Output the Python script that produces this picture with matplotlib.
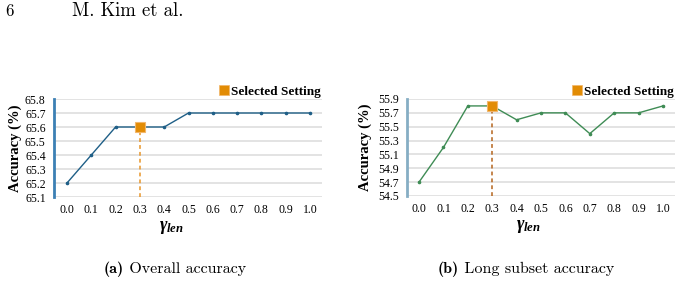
import matplotlib
matplotlib.use("Agg")
import matplotlib.pyplot as plt

gamma = [0.0, 0.1, 0.2, 0.3, 0.4, 0.5, 0.6, 0.7, 0.8, 0.9, 1.0]
xtick_labels = ["0.0", "0.1", "0.2", "0.3", "0.4", "0.5", "0.6", "0.7", "0.8", "0.9", "1.0"]
overall_acc = [65.2, 65.4, 65.6, 65.6, 65.6, 65.7, 65.7, 65.7, 65.7, 65.7, 65.7]
long_acc = [54.7, 55.2, 55.8, 55.8, 55.6, 55.7, 55.7, 55.4, 55.7, 55.7, 55.8]
selected_gamma = 0.3
overall_yticks = [65.1, 65.2, 65.3, 65.4, 65.5, 65.6, 65.7, 65.8]
long_yticks = [54.5, 54.7, 54.9, 55.1, 55.3, 55.5, 55.7, 55.9]
legend_label = "Selected Setting"
ylabel = "Accuracy (%)"
captions = [("(a)", " Overall accuracy"), ("(b)", " Long subset accuracy")]

plt.rcParams["mathtext.fontset"] = "custom"
plt.rcParams["mathtext.it"] = "Liberation Serif:bold:italic"
plt.rcParams["mathtext.rm"] = "Liberation Serif:bold"
plt.rcParams["mathtext.bf"] = "Liberation Serif:bold"

W, H = 682, 284
fig = plt.figure(figsize=(W / 100, H / 100), dpi=100)
serif = "Liberation Serif"


def px_axes(x0, x1, y0, y1):
    return fig.add_axes([x0 / W, 1 - y1 / H, (x1 - x0) / W, (y1 - y0) / H])


def draw(ax, y, yticks, line_color, spine_color, vline_color, x_lo, x_hi, lpad):
    ax.set_xlim(x_lo, x_hi)
    ax.set_ylim(yticks[0], yticks[-1])
    ax.set_yticks(yticks)
    ax.set_yticklabels(["{:.1f}".format(t) for t in yticks], fontfamily=serif, fontsize=8.5)
    ax.set_xticks(gamma)
    ax.set_xticklabels(xtick_labels, fontfamily=serif, fontsize=8.5)
    ax.tick_params(length=0, pad=6)
    ax.tick_params(axis="x", pad=5)
    for s in ["top", "right", "bottom"]:
        ax.spines[s].set_visible(False)
    ax.spines["left"].set_color(spine_color)
    ax.spines["left"].set_linewidth(2.0)
    ax.grid(axis="y", color="#e3e3e3", linewidth=1.4)
    ax.set_axisbelow(True)
    ax.plot(gamma, y, color=line_color, linewidth=1.0, marker="o", markersize=1.6, zorder=3)
    i = gamma.index(selected_gamma)
    ax.plot([selected_gamma, selected_gamma], [yticks[0], y[i]], color=vline_color,
            linewidth=1.1, linestyle=(0, (2.5, 2)), zorder=2)
    ax.plot([selected_gamma], [y[i]], marker="s", markersize=7.2, color="#E28C05",
            markeredgecolor="#F2B66A", markeredgewidth=0.8, linestyle="none", zorder=4)
    ax.set_ylabel(ylabel, fontfamily=serif, fontsize=10.5, fontweight="bold", labelpad=lpad)
    ax.patch.set_alpha(0)


ax1 = px_axes(54, 322, 99, 197)
draw(ax1, overall_acc, overall_yticks, "#1F5F87", "#3C80B4", "#E8962A",
     -13 / 243, 1 + 12 / 243, 2.0)
ax2 = px_axes(407, 675, 99, 196)
draw(ax2, long_acc, long_yticks, "#3F8C55", "#86AEC4", "#B5651D",
     -12 / 244, 1 + 12 / 244, 4.3)

# legends
for ax in (ax1, ax2):
    ax.legend(handles=[plt.Line2D([], [], marker="s", color="#E28C05", markersize=7,
                                  linestyle="none", markeredgecolor="#F2B66A", markeredgewidth=0.5)],
              labels=[legend_label], loc="lower right", bbox_to_anchor=(1.0, 1.0),
              frameon=False, prop={"family": serif, "weight": "bold", "size": 9.5},
              handletextpad=0.1, borderaxespad=0.0, borderpad=0.1, handlelength=0.8)

# x labels
for ax, xc in ((ax1, 0.43), (ax2, 0.447)):
    ax.text(xc, -0.31, r"$\gamma_{len}$", transform=ax.get_xaxis_transform(),
            ha="center", va="center", fontsize=13)

# header
fig.text(5 / W, 1 - 11 / H, "6", fontname="cmr10", fontsize=12, va="center", ha="left")
fig.text(72 / W, 1 - 11 / H, "M. Kim et al.", fontname="cmr10", fontsize=13.5, va="center", ha="left")

# captions
for (tag, rest), x0 in zip(captions, (104, 438)):
    t = fig.text(x0 / W, 1 - 269 / H, tag, fontname="cmb10", fontsize=11.5, va="center", ha="left")
    fig.canvas.draw()
    bb = t.get_window_extent()
    fig.text(bb.x1 / W, 1 - 269 / H, rest, fontname="cmr10", fontsize=11.5, va="center", ha="left")

fig.savefig("out.png", dpi=100)
